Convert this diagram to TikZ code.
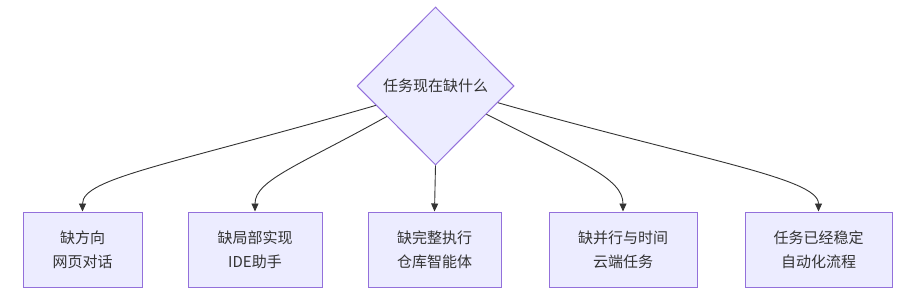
\documentclass[tikz,border=0pt]{standalone}
\usepackage{fontspec}
\setmainfont{Noto Sans CJK SC}
\usetikzlibrary{shapes.geometric,arrows.meta}
\definecolor{boxfill}{HTML}{ECECFF}
\definecolor{boxline}{HTML}{9370DB}
\definecolor{ink}{HTML}{333333}
\begin{document}
\begin{tikzpicture}[x=1pt,y=1pt,
  choice/.style={draw=boxline, fill=boxfill, line width=1pt, diamond, aspect=1, inner sep=0pt, minimum width=157pt, minimum height=158pt, text=ink, font=\fontsize{15pt}{24pt}\selectfont},
  option/.style={draw=boxline, fill=boxfill, line width=1pt, align=center, minimum height=75pt, text=ink, font=\fontsize{15pt}{24pt}\selectfont},
  link/.style={draw=ink, line width=0.9pt, -{Triangle[length=8pt,width=7pt]}}]
\useasboundingbox (0,0) rectangle (916,-294);
\node[choice] (q) at (435.5,-86) {任务现在缺什么};
\node[option, minimum width=119pt] (dir) at (82.5,-249.5) {缺方向\\网页对话};
\node[option, minimum width=134pt] (loc) at (255,-249.5) {缺局部实现\\IDE助手};
\node[option, minimum width=133pt] (full) at (434.5,-249.5) {缺完整执行\\仓库智能体};
\node[option, minimum width=148pt] (par) at (623,-249.5) {缺并行与时间\\云端任务};
\node[option, minimum width=147pt] (auto) at (818.5,-249.5) {任务已经稳定\\自动化流程};
\draw[link] (q.-162.6) .. controls (170,-165) and (82.5,-178) .. (dir.north);
\draw[link] (q.-148.5) .. controls (300,-165) and (255,-180) .. (loc.north);
\draw[link] (q.south) -- (full.north);
\draw[link] (q.-29.4) .. controls (580,-162) and (623,-178) .. (par.north);
\draw[link] (q.-15.2) .. controls (700,-160) and (818.5,-178) .. (auto.north);
\end{tikzpicture}
\end{document}
